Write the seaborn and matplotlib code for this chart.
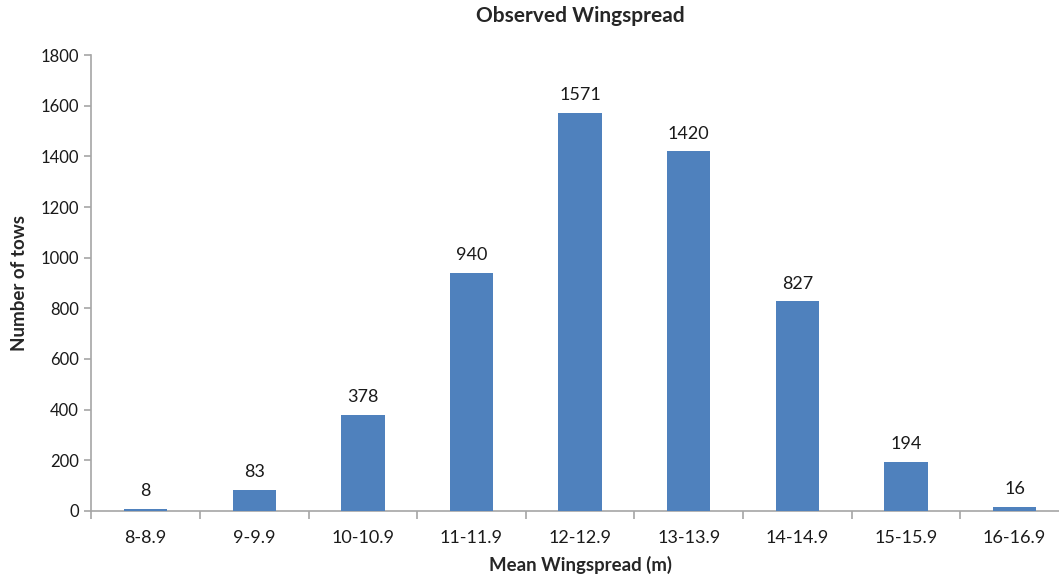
import numpy as np
import pandas as pd
import seaborn as sns
import matplotlib.pyplot as plt
from matplotlib.ticker import FixedLocator

sns.set_style("white")
plt.rcParams['font.family'] = ['Lato', 'DejaVu Sans']

# data
bins = ["8-8.9", "9-9.9", "10-10.9", "11-11.9", "12-12.9",
        "13-13.9", "14-14.9", "15-15.9", "16-16.9"]
tows = [8, 83, 378, 940, 1571, 1420, 827, 194, 16]

df = pd.DataFrame({"bin": bins, "tows": tows})

fig = plt.figure(figsize=(10.59, 5.74), dpi=100)
# the original is cropped on the right, so the axes runs a bit past the edge
ax = fig.add_axes([0.0863, 0.110, 0.923, 0.794])

sns.barplot(data=df, x="bin", y="tows", color="#4F81BD", width=0.4,
            saturation=1, linewidth=0, ax=ax, zorder=3)

for c in ax.containers:
    ax.bar_label(c, padding=7, fontsize=13, color="#1a1a1a")

ax.set_ylim(0, 1800)
ax.set_yticks(np.arange(0, 1801, 200))
ax.set_xlim(-0.5, len(bins) - 0.5)

# grey axis lines, ticks between the categories like excel
for s in ["top", "right"]:
    ax.spines[s].set_visible(False)
for s in ["left", "bottom"]:
    ax.spines[s].set_color("#A6A6A6")
    ax.spines[s].set_linewidth(1.2)
ax.xaxis.set_minor_locator(FixedLocator(np.arange(-0.5, len(bins), 1)))
ax.tick_params(axis="x", which="major", length=0, pad=14, labelsize=13, labelcolor="#1a1a1a")
ax.tick_params(axis="x", which="minor", direction="out", length=6, color="#A6A6A6", width=1.2, bottom=True)
ax.tick_params(axis="y", direction="out", length=5, color="#A6A6A6", width=1.2, left=True,
               labelsize=12, labelcolor="#1a1a1a", pad=4)

ax.set_xlabel("Mean Wingspread (m)", fontsize=13.4, fontweight="bold", labelpad=7)
ax.set_ylabel("Number of tows", fontsize=13.5, fontweight="bold", labelpad=9)
ax.set_title("Observed Wingspread", fontsize=15, fontweight="bold", pad=24)

fig.savefig("out.png", dpi=100, facecolor="white")
